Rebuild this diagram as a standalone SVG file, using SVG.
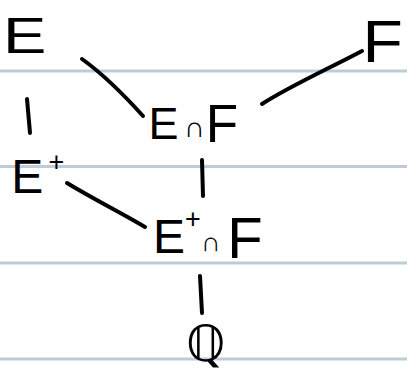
<svg xmlns="http://www.w3.org/2000/svg" width="407" height="372" viewBox="0 0 407 372">
  <style>
    .rule { stroke: #bfcbdb; stroke-width: 3; }
    .edge { fill: none; stroke: #000; stroke-width: 4; stroke-linecap: round; stroke-linejoin: round; }
    .lbl { font-family: "Liberation Sans", "DejaVu Sans", sans-serif; fill: #000; }
    .sym { font-family: "DejaVu Sans", sans-serif; fill: #000; }
  </style>
  <rect width="407" height="372" fill="#ffffff"/>

  <!-- ruled paper lines -->
  <g id="rules">
    <line class="rule" x1="0" y1="71" x2="407" y2="71"/>
    <line class="rule" x1="0" y1="166.5" x2="407" y2="166.5"/>
    <line class="rule" x1="0" y1="263" x2="407" y2="263"/>
    <line class="rule" x1="0" y1="359" x2="407" y2="359"/>
  </g>

  <!-- connectors of the lattice -->
  <g id="connectors">
    <path class="edge" d="M82,59 C100,72 125,96 143,116"/>
    <path class="edge" d="M362,51 C330,68 290,86 262,104"/>
    <path class="edge" d="M27,99 L30,133"/>
    <path class="edge" d="M202,160 L203,196"/>
    <path class="edge" d="M67,183 C95,200 120,212 145,227"/>
    <path class="edge" d="M200,276 L202,313"/>
  </g>

  <g id="node-E">
    <text class="lbl" transform="translate(3,53) scale(1.3,1)" font-size="50">E</text>
  </g>

  <g id="node-F">
    <text class="lbl" transform="translate(362.6,62) scale(1.1,1)" font-size="60">F</text>
  </g>

  <g id="node-EcapF">
    <text class="lbl"><tspan x="148.5" y="139" font-size="45">E</tspan><tspan x="184" y="137" font-size="29">∩</tspan><tspan x="205.7" y="142" font-size="53">F</tspan></text>
  </g>

  <g id="node-Eplus">
    <text class="lbl"><tspan x="11.3" y="193" font-size="48">E</tspan><tspan x="48.6" y="171" font-size="27">+</tspan></text>
  </g>

  <g id="node-EpluscapF">
    <text class="lbl"><tspan x="153" y="253" font-size="48">E</tspan><tspan x="185" y="228.4" font-size="27">+</tspan><tspan x="201" y="251" font-size="27">∩</tspan><tspan x="227.2" y="258" font-size="58">F</tspan></text>
  </g>

  <g id="node-Q">
    <text class="sym" x="186" y="361" font-size="50">ℚ</text>
  </g>
</svg>
